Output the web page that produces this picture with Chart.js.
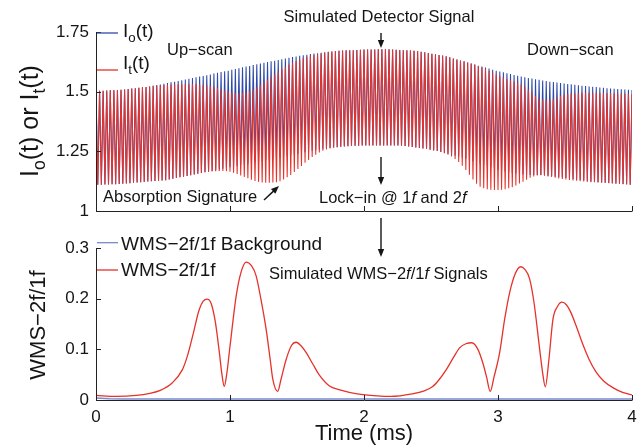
<!DOCTYPE html>
<html lang="en">
<head>
<meta charset="UTF-8">
<title>Simulated Detector Signal and WMS-2f/1f</title>
<script src="https://cdn.jsdelivr.net/npm/chart.js"></script>
<style>
  body { margin: 0; background: #fff; }
  #wrap { position: relative; width: 644px; height: 448px; }
  canvas { position: absolute; left: 0; }
  #topChart { top: 0; }
  #botChart { top: 215px; }
</style>
</head>
<body>
<div id="wrap">
  <canvas id="topChart" width="644" height="232"></canvas>
  <canvas id="botChart" width="644" height="233"></canvas>
</div>

<script>
// ---- data ----
const timeSpan = 4;          // ms
const cycleCount = 150;      // modulation cycles across the scan
const timeTicks = [0, 1, 2, 3, 4];

// peak (k = 0..150) and trough (k = 0..149) levels of each modulation cycle
const ioPeaks = [
  1.503,1.504,1.504,1.505,1.506,1.506,1.507,1.508,1.509,1.511,
  1.513,1.514,1.516,1.518,1.520,1.522,1.525,1.528,1.530,1.533,
  1.536,1.539,1.542,1.545,1.548,1.551,1.554,1.557,1.560,1.563,
  1.566,1.569,1.572,1.576,1.579,1.582,1.585,1.588,1.592,1.595,
  1.598,1.602,1.605,1.608,1.612,1.615,1.618,1.621,1.624,1.627,
  1.630,1.633,1.636,1.639,1.642,1.645,1.647,1.650,1.653,1.655,
  1.658,1.660,1.661,1.663,1.665,1.667,1.668,1.670,1.671,1.672,
  1.673,1.674,1.674,1.675,1.676,1.677,1.677,1.677,1.677,1.678,
  1.678,1.678,1.678,1.677,1.676,1.675,1.674,1.673,1.672,1.671,
  1.670,1.667,1.665,1.662,1.659,1.657,1.654,1.651,1.648,1.644,
  1.639,1.635,1.631,1.627,1.622,1.618,1.614,1.609,1.605,1.601,
  1.597,1.592,1.588,1.584,1.581,1.577,1.574,1.570,1.567,1.563,
  1.560,1.557,1.555,1.552,1.550,1.547,1.545,1.542,1.540,1.538,
  1.536,1.534,1.532,1.531,1.529,1.527,1.525,1.524,1.522,1.521,
  1.519,1.517,1.516,1.514,1.513,1.512,1.511,1.510,1.509,1.508,
  1.507
];
const ioTroughs = [
  1.110,1.110,1.111,1.111,1.112,1.112,1.113,1.114,1.115,1.116,
  1.118,1.119,1.120,1.122,1.124,1.125,1.126,1.127,1.128,1.129,
  1.132,1.135,1.138,1.141,1.144,1.147,1.150,1.153,1.156,1.159,
  1.162,1.165,1.168,1.171,1.174,1.177,1.180,1.183,1.186,1.189,
  1.192,1.195,1.198,1.201,1.204,1.207,1.210,1.213,1.216,1.219,
  1.222,1.225,1.228,1.231,1.234,1.237,1.240,1.243,1.246,1.249,
  1.252,1.255,1.258,1.260,1.262,1.264,1.266,1.267,1.269,1.270,
  1.271,1.272,1.273,1.273,1.274,1.274,1.275,1.275,1.275,1.275,
  1.275,1.275,1.275,1.275,1.274,1.273,1.272,1.270,1.268,1.266,
  1.264,1.262,1.260,1.257,1.254,1.251,1.247,1.243,1.240,1.236,
  1.232,1.228,1.224,1.219,1.214,1.209,1.204,1.199,1.194,1.189,
  1.184,1.179,1.174,1.170,1.166,1.162,1.159,1.157,1.155,1.153,
  1.152,1.151,1.151,1.151,1.151,1.150,1.148,1.146,1.144,1.142,
  1.140,1.138,1.136,1.134,1.132,1.130,1.128,1.126,1.124,1.122,
  1.120,1.119,1.118,1.117,1.116,1.115,1.114,1.113,1.112,1.110
];
const itPeaks = [
  1.503,1.504,1.504,1.505,1.506,1.506,1.507,1.508,1.509,1.511,
  1.513,1.514,1.516,1.518,1.520,1.522,1.525,1.526,1.527,1.528,
  1.529,1.530,1.531,1.531,1.532,1.532,1.532,1.532,1.531,1.530,
  1.528,1.526,1.523,1.519,1.515,1.510,1.505,1.500,1.496,1.494,
  1.493,1.494,1.497,1.502,1.509,1.518,1.528,1.539,1.550,1.561,
  1.572,1.583,1.594,1.604,1.613,1.621,1.628,1.635,1.641,1.646,
  1.650,1.654,1.657,1.660,1.663,1.666,1.668,1.670,1.671,1.672,
  1.673,1.674,1.674,1.675,1.676,1.677,1.677,1.677,1.677,1.678,
  1.678,1.678,1.678,1.677,1.676,1.675,1.674,1.673,1.672,1.671,
  1.670,1.667,1.665,1.662,1.659,1.657,1.654,1.651,1.648,1.644,
  1.639,1.635,1.631,1.627,1.622,1.618,1.614,1.608,1.602,1.595,
  1.588,1.580,1.572,1.565,1.559,1.553,1.548,1.543,1.538,1.530,
  1.520,1.508,1.495,1.482,1.472,1.466,1.464,1.465,1.470,1.476,
  1.482,1.487,1.490,1.492,1.493,1.494,1.495,1.495,1.495,1.495,
  1.495,1.494,1.494,1.493,1.493,1.492,1.492,1.491,1.491,1.490,
  1.490
];
const itTroughs = [
  1.110,1.110,1.111,1.111,1.112,1.112,1.113,1.114,1.115,1.116,
  1.118,1.119,1.120,1.122,1.124,1.125,1.126,1.127,1.128,1.129,
  1.132,1.135,1.138,1.141,1.144,1.147,1.150,1.153,1.156,1.159,
  1.162,1.164,1.166,1.167,1.168,1.168,1.167,1.164,1.160,1.155,
  1.149,1.143,1.137,1.131,1.126,1.122,1.119,1.118,1.118,1.119,
  1.120,1.125,1.132,1.141,1.151,1.163,1.176,1.189,1.202,1.214,
  1.226,1.236,1.245,1.252,1.258,1.262,1.265,1.267,1.269,1.270,
  1.271,1.272,1.273,1.273,1.274,1.274,1.275,1.275,1.275,1.275,
  1.275,1.275,1.275,1.275,1.274,1.273,1.272,1.270,1.268,1.266,
  1.264,1.262,1.260,1.257,1.254,1.251,1.247,1.242,1.236,1.228,
  1.218,1.205,1.190,1.172,1.152,1.132,1.114,1.102,1.095,1.091,
  1.089,1.088,1.088,1.089,1.091,1.095,1.100,1.107,1.115,1.123,
  1.131,1.139,1.145,1.149,1.150,1.148,1.145,1.142,1.139,1.136,
  1.134,1.132,1.130,1.128,1.127,1.125,1.124,1.122,1.121,1.120,
  1.119,1.118,1.117,1.116,1.115,1.114,1.113,1.112,1.111,1.110
];

// WMS-2f/1f
const wmsTime = [0, 0.15, 0.3, 0.4, 0.48, 0.57, 0.645, 0.68, 0.72, 0.77, 0.8, 0.83, 0.86, 0.89, 0.92, 0.94, 0.957, 0.975,
  1.0, 1.046, 1.08, 1.12, 1.16, 1.195, 1.23, 1.27, 1.3, 1.32, 1.356, 1.38, 1.419, 1.46, 1.494, 1.53, 1.57, 1.62, 1.67,
  1.74, 1.82, 1.95, 2.1, 2.2, 2.36, 2.45, 2.51, 2.56, 2.614, 2.67, 2.713, 2.76, 2.805, 2.85, 2.887, 2.915, 2.942, 2.97,
  3.012, 3.05, 3.087, 3.13, 3.169, 3.2, 3.236, 3.27, 3.311, 3.335, 3.353, 3.38, 3.41, 3.445, 3.477, 3.51, 3.545, 3.585,
  3.63, 3.68, 3.73, 3.79, 3.86, 3.93, 4.0];
const wmsSignal = [0.009, 0.007, 0.009, 0.013, 0.019, 0.034, 0.06, 0.085, 0.125, 0.178, 0.195, 0.199, 0.19, 0.155, 0.095, 0.05, 0.027, 0.05,
  0.106, 0.205, 0.25, 0.272, 0.265, 0.245, 0.2, 0.139, 0.08, 0.04, 0.017, 0.04, 0.08, 0.108, 0.114, 0.107, 0.093, 0.07, 0.048,
  0.028, 0.02, 0.012, 0.008, 0.007, 0.012, 0.018, 0.026, 0.04, 0.06, 0.085, 0.103, 0.111, 0.113, 0.1, 0.073, 0.045, 0.017, 0.045,
  0.093, 0.16, 0.212, 0.25, 0.263, 0.258, 0.239, 0.19, 0.1, 0.05, 0.026, 0.08, 0.159, 0.185, 0.193, 0.188, 0.172, 0.145,
  0.112, 0.08, 0.056, 0.037, 0.024, 0.015, 0.01];
const bgTime = [0, 0.1, 0.2, 4];
const bgSignal = [0.004, 0.0025, 0.002, 0.002];

// ---- helpers ----
const FONT = '"Liberation Sans", Arial, Helvetica, sans-serif';
const RED = '#e5322b';
const BLUE = '#2e4aa8';
const INK = '#151515';
Chart.defaults.font.family = FONT;
Chart.defaults.color = INK;

function wave(peaks, troughs) {
  const period = timeSpan / cycleCount;
  const pts = [];
  peaks.forEach((p, k) => {
    pts.push({ x: k * period, y: p });
    if (k < troughs.length) pts.push({ x: (k + 0.5) * period, y: troughs[k] });
  });
  return pts;
}
const pairs = (xs, ys) => xs.map((x, i) => ({ x, y: ys[i] }));
const plainNum = v => String(parseFloat(Number(v).toFixed(2)));

// runs: [text, style] with style '' | 'i' (italic) | 'sub' (subscript)
function drawRuns(ctx, runs, x, y, size, align) {
  const fontFor = s => (s === 'i' ? 'italic ' : '') + (s === 'sub' ? size * 0.7 : size) + 'px ' + FONT;
  let total = 0;
  runs.forEach(([t, s]) => { ctx.font = fontFor(s); total += ctx.measureText(t).width; });
  let cx = align === 'center' ? x - total / 2 : x;
  ctx.textAlign = 'left';
  ctx.textBaseline = 'alphabetic';
  runs.forEach(([t, s]) => {
    ctx.font = fontFor(s);
    ctx.fillText(t, cx, s === 'sub' ? y + size * 0.3 : y);
    cx += ctx.measureText(t).width;
  });
}

function arrow(ctx, x1, y1, x2, y2) {
  const a = Math.atan2(y2 - y1, x2 - x1), h = 8, w = 3.2;
  ctx.beginPath();
  ctx.moveTo(x1, y1);
  ctx.lineTo(x2 - h * 0.8 * Math.cos(a), y2 - h * 0.8 * Math.sin(a));
  ctx.stroke();
  ctx.beginPath();
  ctx.moveTo(x2, y2);
  ctx.lineTo(x2 - h * Math.cos(a) + w * Math.sin(a), y2 - h * Math.sin(a) - w * Math.cos(a));
  ctx.lineTo(x2 - h * Math.cos(a) - w * Math.sin(a), y2 - h * Math.sin(a) + w * Math.cos(a));
  ctx.closePath();
  ctx.fill();
}

function legendLine(ctx, color, y) {
  ctx.strokeStyle = color;
  ctx.lineWidth = 1.3;
  ctx.beginPath(); ctx.moveTo(97, y); ctx.lineTo(118, y); ctx.stroke();
}

// matlab-like axes: left + bottom lines, ticks pointing inward
function drawAxes(chart, xTicks) {
  const ctx = chart.ctx, { left, right, top, bottom } = chart.chartArea;
  const x = chart.scales.x, y = chart.scales.y;
  ctx.save();
  ctx.strokeStyle = '#222';
  ctx.lineWidth = 1;
  ctx.beginPath();
  ctx.moveTo(left + 0.5, top);
  ctx.lineTo(left + 0.5, bottom + 0.5);
  ctx.lineTo(right + 0.5, bottom + 0.5);
  y.ticks.forEach(t => {
    const py = Math.round(y.getPixelForValue(t.value)) + 0.5;
    ctx.moveTo(left, py); ctx.lineTo(left + 5, py);
  });
  xTicks.forEach(v => {
    const px = Math.round(x.getPixelForValue(v)) + 0.5;
    ctx.moveTo(px, bottom); ctx.lineTo(px, bottom - 5);
  });
  ctx.stroke();
  ctx.restore();
}

const yAxisWidth = s => { s.width = 96; };
const noGrid = { display: false, drawTicks: false };

// ---- top panel: detector signals ----
const topDecor = {
  id: 'topDecor',
  afterDatasetsDraw(chart) {
    drawAxes(chart, timeTicks);
    const ctx = chart.ctx;
    ctx.save();
    ctx.fillStyle = INK;
    ctx.strokeStyle = INK;
    ctx.lineWidth = 1.4;
    drawRuns(ctx, [['Simulated Detector Signal', '']], 379, 22, 16.5, 'center');
    drawRuns(ctx, [['Up\u2212scan', '']], 167, 54.5, 16.5);
    drawRuns(ctx, [['Down\u2212scan', '']], 527, 54.5, 16.5);
    drawRuns(ctx, [['Absorption Signature', '']], 103, 202, 16.5);
    drawRuns(ctx, [['Lock\u2212in @ 1', ''], ['f', 'i'], [' and 2', ''], ['f', 'i']], 319, 203, 16.5);
    arrow(ctx, 381, 33, 381, 48);
    arrow(ctx, 381, 157, 381, 185);
    arrow(ctx, 264, 200, 279, 186);
    // legend
    legendLine(ctx, BLUE, 33);
    legendLine(ctx, RED, 70);
    ctx.fillStyle = INK;
    drawRuns(ctx, [['I', ''], ['o', 'sub'], ['(t)', '']], 123, 36.5, 19);
    drawRuns(ctx, [['I', ''], ['t', 'sub'], ['(t)', '']], 123, 68.5, 19);
    // y title
    ctx.translate(37.5, 121);
    ctx.rotate(-Math.PI / 2);
    drawRuns(ctx, [['I', ''], ['o', 'sub'], ['(t) or I', ''], ['t', 'sub'], ['(t)', '']], 0, 0, 25, 'center');
    ctx.restore();
  }
};

new Chart(document.getElementById('topChart'), {
  type: 'line',
  data: {
    datasets: [
      { label: 'It(t)', data: wave(itPeaks, itTroughs), borderColor: RED, borderWidth: 1.05, pointRadius: 0, order: 1 },
      { label: 'Io(t)', data: wave(ioPeaks, ioTroughs), borderColor: BLUE, borderWidth: 1.05, pointRadius: 0, order: 2 }
    ]
  },
  options: {
    responsive: false,
    animation: false,
    events: [],
    layout: { padding: { top: 32, bottom: 21, left: 0, right: 12 } },
    plugins: { legend: { display: false }, tooltip: { enabled: false } },
    scales: {
      x: { type: 'linear', min: 0, max: timeSpan, display: false },
      y: {
        min: 1, max: 1.75,
        afterFit: yAxisWidth,
        grid: noGrid,
        border: { display: false },
        ticks: { stepSize: 0.25, padding: 7, color: INK, font: { size: 17 }, callback: plainNum }
      }
    }
  },
  plugins: [topDecor]
});

// ---- bottom panel: WMS-2f/1f ----
const botDecor = {
  id: 'botDecor',
  afterDatasetsDraw(chart) {
    drawAxes(chart, timeTicks.slice(1));
    const ctx = chart.ctx, off = 215;
    ctx.save();
    ctx.fillStyle = INK;
    ctx.strokeStyle = INK;
    ctx.lineWidth = 1.4;
    arrow(ctx, 381, 218 - off, 381, 257 - off);
    drawRuns(ctx, [['Simulated WMS\u22122', ''], ['f', 'i'], ['/1', ''], ['f', 'i'], [' Signals', '']], 269, 278.5 - off, 16.5);
    legendLine(ctx, '#7889cf', 242.7 - off);
    legendLine(ctx, RED, 270 - off);
    ctx.fillStyle = INK;
    drawRuns(ctx, [['WMS\u22122f/1f Background', '']], 121, 249.5 - off, 19);
    drawRuns(ctx, [['WMS\u22122f/1f', '']], 121, 276 - off, 19);
    drawRuns(ctx, [['Time (ms)', '']], 364, 440 - off, 22, 'center');
    ctx.translate(45, 325 - off);
    ctx.rotate(-Math.PI / 2);
    drawRuns(ctx, [['WMS\u22122f/1f', '']], 0, 0, 22, 'center');
    ctx.restore();
  }
};

new Chart(document.getElementById('botChart'), {
  type: 'line',
  data: {
    datasets: [
      { label: 'WMS-2f/1f', data: pairs(wmsTime, wmsSignal), borderColor: RED, borderWidth: 1.3,
        pointRadius: 0, cubicInterpolationMode: 'monotone', order: 1 },
      { label: 'WMS-2f/1f Background', data: pairs(bgTime, bgSignal), borderColor: '#7889cf', borderWidth: 1.6,
        pointRadius: 0, order: 2 }
    ]
  },
  options: {
    responsive: false,
    animation: false,
    events: [],
    layout: { padding: { top: 33, bottom: 0, left: 0, right: 12 } },
    plugins: { legend: { display: false }, tooltip: { enabled: false } },
    scales: {
      x: {
        type: 'linear', min: 0, max: timeSpan,
        afterFit: s => { s.height = 48; },
        grid: noGrid,
        border: { display: false },
        ticks: { stepSize: 1, padding: 7, color: INK, font: { size: 17 }, callback: plainNum }
      },
      y: {
        min: 0, max: 0.3,
        afterFit: yAxisWidth,
        grid: noGrid,
        border: { display: false },
        ticks: { stepSize: 0.1, padding: 7, color: INK, font: { size: 17 }, callback: plainNum }
      }
    }
  },
  plugins: [botDecor]
});
</script>
</body>
</html>
